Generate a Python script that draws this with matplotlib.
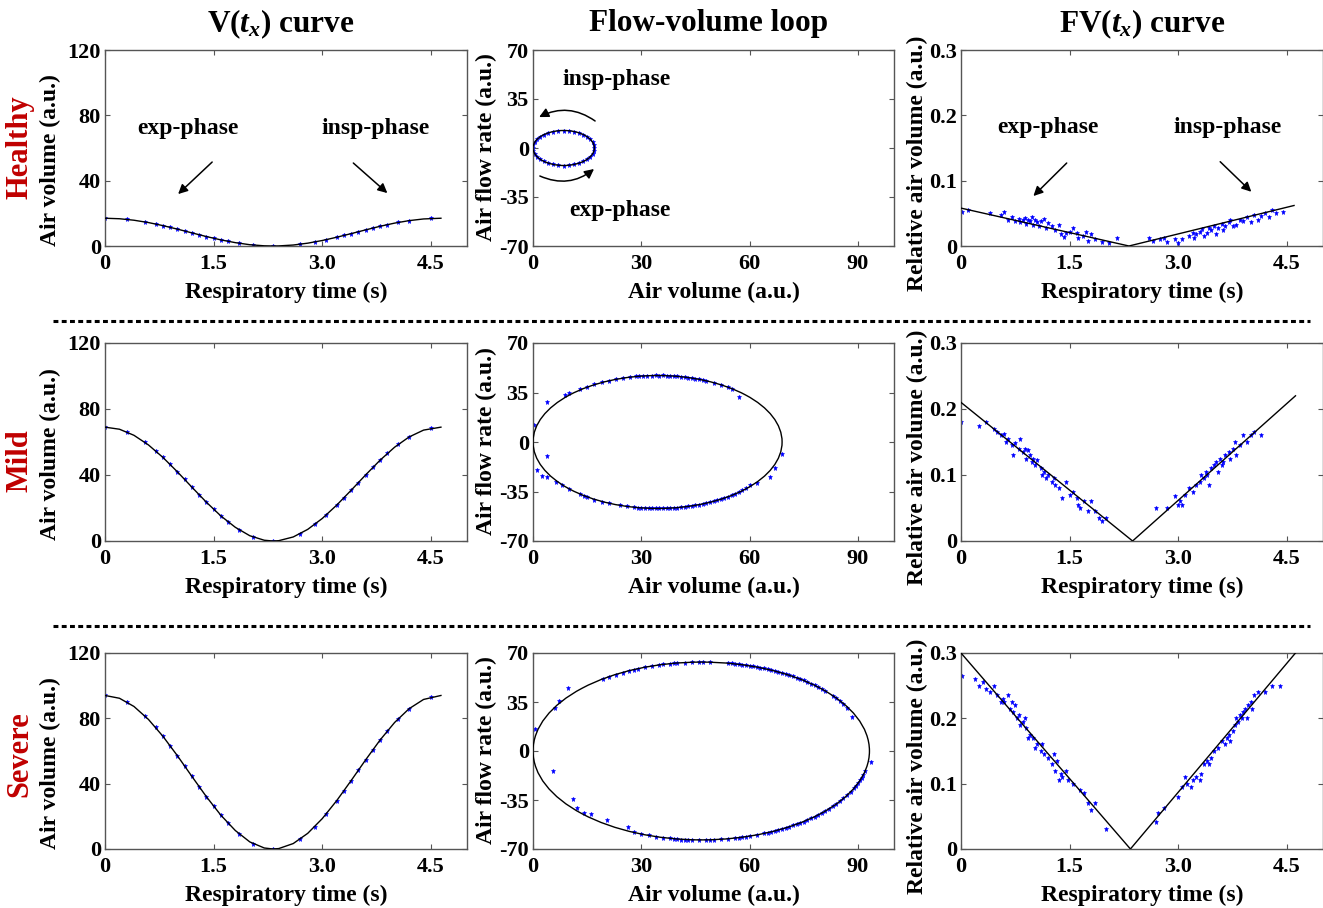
import matplotlib
matplotlib.use("Agg")
import matplotlib.pyplot as plt
from matplotlib.patches import Ellipse, FancyArrowPatch

plt.rcParams['font.family'] = 'Liberation Serif'
plt.rcParams['font.weight'] = 'bold'
plt.rcParams['mathtext.fontset'] = 'custom'
plt.rcParams['mathtext.rm'] = 'Liberation Serif:bold'
plt.rcParams['mathtext.it'] = 'Liberation Serif:bold:italic'

rows = ["Healthy", "Mild", "Severe"]
col_titles = [r"V($t_x$) curve", "Flow-volume loop", r"FV($t_x$) curve"]

# ---- V(t) fitted curve (shared time grid) ----
v_curve_t = [0, 0.2, 0.4, 0.6, 0.8, 1.0, 1.2, 1.4, 1.6, 1.8, 2.0, 2.2, 2.32, 2.4,
             2.6, 2.8, 3.0, 3.2, 3.4, 3.6, 3.8, 4.0, 4.2, 4.4, 4.64]
v_curve_healthy = [17.0, 16.69, 15.78, 14.35, 12.48, 10.33, 8.04, 5.79, 3.75, 2.05, 0.79, 0.11, 0.0,
                   0.05, 0.60, 1.73, 3.36, 5.35, 7.58, 9.87, 12.07, 14.01, 15.53, 16.56, 17.0]
v_curve_mild = [69.0, 67.74, 64.06, 58.23, 50.66, 41.92, 32.64, 23.52, 15.20, 8.30, 3.19, 0.46, 0.0,
                0.20, 2.45, 7.04, 13.62, 21.72, 30.76, 40.06, 49.00, 56.85, 63.05, 67.21, 69.0]
v_curve_severe = [94.0, 92.29, 87.27, 79.33, 69.01, 57.11, 44.46, 32.04, 20.71, 11.31, 4.34, 0.62, 0.0,
                  0.27, 3.34, 9.59, 18.56, 29.59, 41.91, 54.58, 66.75, 77.45, 85.89, 91.56, 94.0]

# ---- V(t) measured points ----
v_pts_t = [0.0, 0.3, 0.55, 0.7, 0.8, 0.9, 1.0, 1.1, 1.2, 1.3, 1.4, 1.5, 1.6, 1.7, 1.85, 2.05, 2.32,
           2.7, 2.9, 3.05, 3.2, 3.3, 3.4, 3.5, 3.6, 3.7, 3.8, 3.9, 4.05, 4.2, 4.5]
v_pts_healthy = [17.0, 16.31, 14.75, 13.46, 12.48, 11.43, 10.33, 9.19, 8.04, 6.90, 5.79, 4.74, 3.75, 2.83,
                 1.65, 0.56, 0.0, 1.10, 2.49, 3.83, 5.35, 6.45, 7.58, 8.73, 9.87, 11.0, 12.07, 13.08,
                 14.43, 15.53, 16.85]
v_pts_mild = [69.0, 66.19, 59.86, 54.63, 50.66, 46.39, 41.92, 37.30, 32.64, 28.0, 23.52, 19.23, 15.20,
              11.48, 6.68, 2.28, 0.0, 4.47, 10.10, 15.53, 21.72, 26.17, 30.76, 35.42, 40.06, 44.63,
              49.0, 53.08, 58.55, 63.05, 68.38]
v_pts_severe = [94.0, 90.17, 81.55, 74.42, 69.01, 63.20, 57.11, 50.82, 44.46, 38.15, 32.04, 26.20, 20.71,
                15.64, 9.10, 3.11, 0.0, 6.09, 13.76, 21.16, 29.59, 35.65, 41.91, 48.26, 54.58, 60.80,
                66.75, 72.31, 79.77, 85.89, 93.15]

# ---- flow-volume loop fits: centre volume, width, height ----
loop_center = [8.5, 34.5, 46.6]
loop_width = [17.0, 69.0, 93.2]
loop_height = [25.0, 94.0, 127.0]

fv_vol_healthy = [17.0, 16.87, 16.49, 15.86, 15.01, 13.96, 12.75, 11.41, 9.98, 8.5, 7.02, 5.59, 4.25, 3.04,
                  1.99, 1.14, 0.51, 0.13, 0.0, 0.13, 0.51, 1.14, 1.99, 3.04, 4.25, 5.59, 7.02, 8.5, 9.98,
                  11.41, 12.75, 13.96, 15.01, 15.86, 16.49, 16.87]
fv_flow_healthy = [0, 2.17, 4.28, 6.25, 8.04, 9.58, 10.83, 11.75, 12.31, 12.5, 12.31, 11.75, 10.83, 9.58,
                   8.04, 6.25, 4.28, 2.17, 0, -2.17, -4.28, -6.25, -8.04, -9.58, -10.83, -11.75, -12.31,
                   -12.5, -12.31, -11.75, -10.83, -9.58, -8.04, -6.25, -4.28, -2.17]

fv_vol_mild = [0.2, 3.8, 9, 10, 13, 15, 17, 19, 21, 23, 25, 27, 28.5, 29.5, 30.5, 31.5, 33, 34, 35, 36, 37,
               38, 39, 40, 41, 42, 43, 44, 45, 46, 47, 48, 50, 52, 54, 55, 57,
               1, 3.8, 2.5, 4, 6.5, 8, 10, 13, 14, 15, 17, 19, 21, 24, 26, 28, 29, 30, 31, 32, 33, 34, 35,
               36, 37, 38, 39, 40, 41, 42, 43, 44, 45, 46, 47, 48, 49, 50, 51, 52, 53, 54, 55, 56, 57, 58,
               59, 60, 62, 65.7, 67.1, 69]
fv_flow_mild = [12, 28, 33, 35, 37.5, 39, 41, 42.5, 43.3, 44.5, 45.5, 46, 46.5, 46.8, 46.8, 47, 47, 47.2,
                47, 47.2, 47, 47, 46.8, 46.6, 46.3, 46, 45.6, 45.2, 44.8, 44.5, 43.8, 43.2, 42, 40.5, 38.7,
                37.8, 32,
                -20, -10, -24, -25, -28, -30.5, -33, -37, -38, -39, -41, -42.5, -43.3, -44.8, -45.5, -46.2,
                -46.5, -46.6, -46.8, -47, -47, -47, -47, -47, -46.9, -46.8, -46.6, -46.4, -46.2, -46,
                -45.6, -45.2, -44.8, -44.3, -43.8, -43.2, -42.7, -42, -41.3, -40.5, -39.7, -38.7, -37.8,
                -36.5, -35.6, -34, -32.2, -30.3, -29, -24.8, -18.3, -8.8]

fv_vol_severe = [0.5, 6, 7.2, 9.6, 19.4, 21, 23, 25, 26.5, 28, 29, 31, 33, 35, 36, 38, 39, 40, 42, 44, 46,
                 47, 49, 54, 55, 56, 57, 58, 59, 60, 61, 62, 63, 64, 65, 66, 67, 68, 69, 70, 71, 72, 73,
                 74, 75, 76, 77, 78, 79, 80, 81, 83, 84, 85, 86, 87, 88.5,
                 5.6, 11, 12.2, 14, 16, 20.4, 26.3, 28, 30, 32, 34, 36, 38, 39, 40, 41, 42, 43, 44, 46, 48,
                 49, 50, 52, 54, 56, 57, 58, 59, 60, 62, 64, 65, 66, 67, 68, 69, 70, 71, 72, 73, 74, 75,
                 76, 77, 78, 79, 80, 81, 82, 83, 84, 85, 86, 87, 88, 89, 89.5, 90, 90.5, 91, 91.5, 92, 93.5]
fv_flow_severe = [16, 31, 36, 45, 51.5, 52.8, 54.5, 56, 57, 58, 58.5, 59.8, 60.6, 61.4, 62, 62.5, 62.8, 63,
                  63.2, 63.4, 63.8, 63.6, 63.4, 62.9, 62.8, 62.4, 62, 61.6, 61.2, 61, 60.4, 60, 59.5, 59,
                  58.4, 58, 57.1, 56.5, 55.7, 55, 54.1, 53.3, 52.3, 51.4, 50.4, 49.2, 48.2, 47, 45.7, 44.3,
                  42.9, 39.6, 38, 35.5, 33.9, 31, 24.5,
                  -14, -34.5, -41, -44, -45, -49.5, -54.5, -57.5, -59, -60.3, -61.2, -62, -62.4, -63, -63.2,
                  -63.3, -63.5, -63.4, -63.5, -63.6, -63.6, -63.5, -63.3, -63.1, -62.7, -62.2, -62, -61.6,
                  -61.2, -60.8, -59.9, -58.9, -58.3, -57.7, -57, -56.4, -55.7, -54.9, -54, -53.2, -52.3,
                  -51.4, -50.4, -49.3, -48, -46.9, -45.5, -44.3, -42.9, -41.3, -39.5, -37.8, -36, -33.9,
                  -31.6, -29.2, -26.4, -25, -23.2, -21, -19.2, -17, -14.3, -8]

# ---- FV(t) fitted V-shaped lines: (start, vertex, end) ----
fvt_line_t = [[0, 2.32, 4.6], [0, 2.37, 4.62], [0, 2.34, 4.62]]
fvt_line_v = [[0.058, 0, 0.062], [0.21, 0, 0.22], [0.30, 0, 0.30]]

fvt_t_healthy = [0.02, 0.1, 0.4, 0.55, 0.6, 0.65, 0.7, 0.75, 0.8, 0.82, 0.85, 0.88, 0.9, 0.92, 0.95, 0.98,
                 1.0, 1.02, 1.05, 1.08, 1.1, 1.15, 1.18, 1.2, 1.25, 1.3, 1.35, 1.38, 1.42, 1.45, 1.5, 1.55,
                 1.6, 1.62, 1.68, 1.72, 1.75, 1.8, 1.85, 1.95, 2.05, 2.15,
                 2.6, 2.65, 2.75, 2.8, 2.85, 2.95, 3.0, 3.05, 3.15, 3.2, 3.22, 3.25, 3.3, 3.33, 3.35, 3.4,
                 3.42, 3.45, 3.5, 3.52, 3.55, 3.6, 3.62, 3.65, 3.7, 3.72, 3.75, 3.8, 3.85, 3.9, 3.95, 4.0,
                 4.05, 4.1, 4.15, 4.2, 4.25, 4.3, 4.35, 4.45]
fvt_v_healthy = [0.052, 0.055, 0.05, 0.048, 0.052, 0.04, 0.045, 0.038, 0.042, 0.036, 0.04, 0.043, 0.034,
                 0.04, 0.038, 0.045, 0.032, 0.04, 0.036, 0.03, 0.038, 0.042, 0.028, 0.035, 0.03, 0.025,
                 0.032, 0.018, 0.014, 0.02, 0.022, 0.028, 0.02, 0.012, 0.015, 0.022, 0.008, 0.018, 0.01,
                 0.006, 0.004, 0.012,
                 0.012, 0.008, 0.01, 0.013, 0.006, 0.011, 0.004, 0.01, 0.015, 0.02, 0.012, 0.018, 0.022,
                 0.026, 0.016, 0.02, 0.028, 0.024, 0.03, 0.018, 0.028, 0.034, 0.024, 0.03, 0.036, 0.04,
                 0.03, 0.032, 0.04, 0.038, 0.045, 0.036, 0.048, 0.04, 0.046, 0.05, 0.044, 0.055, 0.05, 0.052]

fvt_t_mild = [0.0, 0.25, 0.35, 0.45, 0.5, 0.55, 0.6, 0.62, 0.65, 0.7, 0.72, 0.75, 0.8, 0.82, 0.85, 0.88,
              0.9, 0.92, 0.95, 0.98, 1.0, 1.02, 1.05, 1.1, 1.12, 1.15, 1.18, 1.2, 1.25, 1.28, 1.3, 1.35,
              1.4, 1.45, 1.5, 1.55, 1.6, 1.62, 1.65, 1.7, 1.75, 1.8, 1.85, 1.9, 1.95, 2.0,
              2.7, 2.85, 2.95, 3.0, 3.02, 3.05, 3.1, 3.15, 3.2, 3.25, 3.3, 3.32, 3.35, 3.38, 3.4, 3.42,
              3.45, 3.5, 3.52, 3.55, 3.58, 3.6, 3.62, 3.65, 3.7, 3.72, 3.75, 3.78, 3.8, 3.85, 3.9, 3.95,
              4.0, 4.05, 4.15]
fvt_v_mild = [0.18, 0.175, 0.18, 0.17, 0.165, 0.16, 0.162, 0.15, 0.155, 0.145, 0.13, 0.148, 0.14, 0.155,
              0.135, 0.14, 0.125, 0.138, 0.13, 0.12, 0.125, 0.115, 0.122, 0.11, 0.1, 0.105, 0.095, 0.1,
              0.09, 0.095, 0.085, 0.08, 0.065, 0.09, 0.07, 0.075, 0.065, 0.055, 0.05, 0.06, 0.045, 0.06,
              0.045, 0.035, 0.03, 0.035,
              0.05, 0.05, 0.068, 0.055, 0.06, 0.055, 0.07, 0.08, 0.075, 0.085, 0.09, 0.1, 0.095, 0.105,
              0.1, 0.085, 0.11, 0.115, 0.12, 0.105, 0.125, 0.115, 0.12, 0.13, 0.135, 0.125, 0.14, 0.15,
              0.13, 0.145, 0.16, 0.15, 0.16, 0.165, 0.16]

fvt_t_severe = [0.02, 0.2, 0.25, 0.3, 0.35, 0.4, 0.45, 0.5, 0.55, 0.58, 0.6, 0.65, 0.68, 0.7, 0.72, 0.75,
                0.78, 0.8, 0.82, 0.85, 0.88, 0.9, 0.92, 0.95, 1.0, 1.02, 1.05, 1.1, 1.12, 1.15, 1.2, 1.25,
                1.28, 1.3, 1.32, 1.35, 1.38, 1.4, 1.45, 1.48, 1.55, 1.65, 1.7, 1.75, 1.8, 1.85, 2.0,
                2.7, 2.72, 2.8, 3.0, 3.05, 3.1, 3.12, 3.18, 3.2, 3.25, 3.3, 3.32, 3.35, 3.4, 3.42, 3.45,
                3.5, 3.55, 3.6, 3.65, 3.68, 3.7, 3.72, 3.75, 3.78, 3.8, 3.82, 3.85, 3.88, 3.9, 3.92, 3.95,
                3.97, 4.0, 4.02, 4.05, 4.1, 4.2, 4.3, 4.4]
fvt_v_severe = [0.265, 0.26, 0.25, 0.255, 0.245, 0.24, 0.25, 0.235, 0.225, 0.23, 0.225, 0.235, 0.215,
                0.225, 0.21, 0.22, 0.2, 0.205, 0.19, 0.195, 0.2, 0.185, 0.17, 0.175, 0.17, 0.155, 0.16,
                0.15, 0.16, 0.145, 0.14, 0.13, 0.145, 0.12, 0.135, 0.105, 0.115, 0.11, 0.12, 0.105, 0.1,
                0.09, 0.085, 0.07, 0.06, 0.07, 0.03,
                0.042, 0.055, 0.062, 0.08, 0.095, 0.11, 0.1, 0.095, 0.105, 0.11, 0.105, 0.115, 0.13,
                0.135, 0.13, 0.14, 0.15, 0.155, 0.165, 0.16, 0.17, 0.175, 0.165, 0.18, 0.19, 0.2, 0.195,
                0.205, 0.2, 0.21, 0.215, 0.2, 0.22, 0.225, 0.215, 0.235, 0.24, 0.24, 0.25, 0.25]

v_curves = [v_curve_healthy, v_curve_mild, v_curve_severe]
v_pts = [v_pts_healthy, v_pts_mild, v_pts_severe]
fv_vol = [fv_vol_healthy, fv_vol_mild, fv_vol_severe]
fv_flow = [fv_flow_healthy, fv_flow_mild, fv_flow_severe]
fvt_t = [fvt_t_healthy, fvt_t_mild, fvt_t_severe]
fvt_v = [fvt_v_healthy, fvt_v_mild, fvt_v_severe]

W, H = 1323, 908
fig = plt.figure(figsize=(W / 100, H / 100), dpi=100)

col_left = [105, 533, 961]
col_w = [362, 361, 362]
row_top = [50, 343, 653]
row_h = [196, 198, 196]
row_label_y = [147, 461, 754]
RED = "#C00000"
BLUE = "#0000FF"
FRAME = "#555555"
TICK = 16
LAB = 17
MS = 3.6


def px_axes(left, top, w, h):
    return fig.add_axes([left / W, 1 - (top + h) / H, w / W, h / H])


def style(ax, xlim, ylim, xt, xtl, yt, ytl):
    ax.set_xlim(*xlim)
    ax.set_ylim(*ylim)
    ax.set_xticks(xt)
    ax.set_xticklabels(xtl)
    ax.set_yticks(yt)
    ax.set_yticklabels(ytl)
    ax.tick_params(direction="in", top=True, right=True, length=3.5, width=0.8,
                   colors=FRAME, labelcolor="black", labelsize=TICK)
    ax.tick_params(axis="x", pad=6)
    ax.tick_params(axis="y", pad=3)
    for s in ax.spines.values():
        s.set_color(FRAME)
        s.set_linewidth(1.0)


arrow_kw = dict(arrowstyle="-|>", color="black", lw=1.1, mutation_scale=14, shrinkA=0, shrinkB=0)

for r in range(3):
    # V(t) curve
    ax = px_axes(col_left[0], row_top[r], col_w[0], row_h[r])
    ax.plot(v_pts_t, v_pts[r], ls="none", marker="*", ms=MS, mew=0.4, color=BLUE, zorder=2)
    ax.plot(v_curve_t, v_curves[r], color="black", lw=1.0, zorder=3)
    style(ax, (0, 5), (0, 120), [0, 1.5, 3.0, 4.5], ["0", "1.5", "3.0", "4.5"],
          [0, 40, 80, 120], ["0", "40", "80", "120"])
    ax.text(-0.152, 0.44, "Air volume (a.u.)", transform=ax.transAxes, rotation=90,
            ha="center", va="center", fontsize=LAB)
    ax.text(0.5, -0.235, "Respiratory time (s)", transform=ax.transAxes,
            ha="center", va="center", fontsize=LAB)
    if r == 0:
        ax.text(1.15, 72, "exp-phase", ha="center", va="center", fontsize=LAB)
        ax.text(3.74, 72, "insp-phase", ha="center", va="center", fontsize=LAB)
        ax.annotate("", xy=(1.01, 31.8), xytext=(1.48, 51.4), arrowprops=arrow_kw)
        ax.annotate("", xy=(3.9, 32.4), xytext=(3.43, 50.8), arrowprops=arrow_kw)
    fig.text(20 / W, 1 - row_label_y[r] / H, rows[r], rotation=90, ha="center", va="center",
             color=RED, fontsize=22)

    # flow-volume loop
    ax = px_axes(col_left[1], row_top[r], col_w[1], row_h[r])
    ax.plot(fv_vol[r], fv_flow[r], ls="none", marker="*", ms=MS, mew=0.4, color=BLUE, zorder=2)
    ax.add_patch(Ellipse((loop_center[r], 0), loop_width[r], loop_height[r], fill=False,
                         ec="black", lw=1.0, zorder=3))
    style(ax, (0, 100), (-70, 70), [0, 30, 60, 90], ["0", "30", "60", "90"],
          [-70, -35, 0, 35, 70], ["-70", "-35", "0", "35", "70"])
    ax.text(-0.13, 0.505, "Air flow rate (a.u.)", transform=ax.transAxes, rotation=90,
            ha="center", va="center", fontsize=LAB)
    ax.text(0.5, -0.235, "Air volume (a.u.)", transform=ax.transAxes,
            ha="center", va="center", fontsize=LAB)
    if r == 0:
        ax.text(23.2, 48.6, "insp-phase", ha="center", va="center", fontsize=LAB)
        ax.text(24.1, -44.3, "exp-phase", ha="center", va="center", fontsize=LAB)
        ax.add_patch(FancyArrowPatch((17.2, 19.3), (1.7, 22.1), connectionstyle="arc3,rad=0.3",
                                     **arrow_kw))
        ax.add_patch(FancyArrowPatch((1.9, -20), (16.9, -15), connectionstyle="arc3,rad=0.3",
                                     **arrow_kw))

    # FV(t) curve
    ax = px_axes(col_left[2], row_top[r], col_w[2], row_h[r])
    ax.plot(fvt_t[r], fvt_v[r], ls="none", marker="*", ms=MS, mew=0.4, color=BLUE, zorder=2)
    ax.plot(fvt_line_t[r], fvt_line_v[r], color="black", lw=1.0, zorder=3)
    style(ax, (0, 5), (0, 0.3), [0, 1.5, 3.0, 4.5], ["0", "1.5", "3.0", "4.5"],
          [0, 0.1, 0.2, 0.3], ["0", "0.1", "0.2", "0.3"])
    ax.text(-0.119, 0.423, "Relative air volume (a.u.)", transform=ax.transAxes, rotation=90,
            ha="center", va="center", fontsize=LAB)
    ax.text(0.5, -0.235, "Respiratory time (s)", transform=ax.transAxes,
            ha="center", va="center", fontsize=LAB)
    if r == 0:
        ax.text(1.2, 0.182, "exp-phase", ha="center", va="center", fontsize=LAB)
        ax.text(3.68, 0.182, "insp-phase", ha="center", va="center", fontsize=LAB)
        ax.annotate("", xy=(1.0, 0.0765), xytext=(1.46, 0.127), arrowprops=arrow_kw)
        ax.annotate("", xy=(4.01, 0.083), xytext=(3.58, 0.129), arrowprops=arrow_kw)

# column titles
for c, title in enumerate(col_titles):
    cx = [281, 709, 1142][c]
    fig.text(cx / W, 1 - 24 / H, title, ha="center", va="center", fontsize=22.5)

# dashed separators between rows
for y in [321, 626]:
    fig.add_artist(plt.Line2D([53 / W, 1310 / W], [1 - y / H, 1 - y / H], color="black",
                              lw=2.2, ls=(0, (1.6, 1.1))))

fig.savefig("out.png", dpi=100)
